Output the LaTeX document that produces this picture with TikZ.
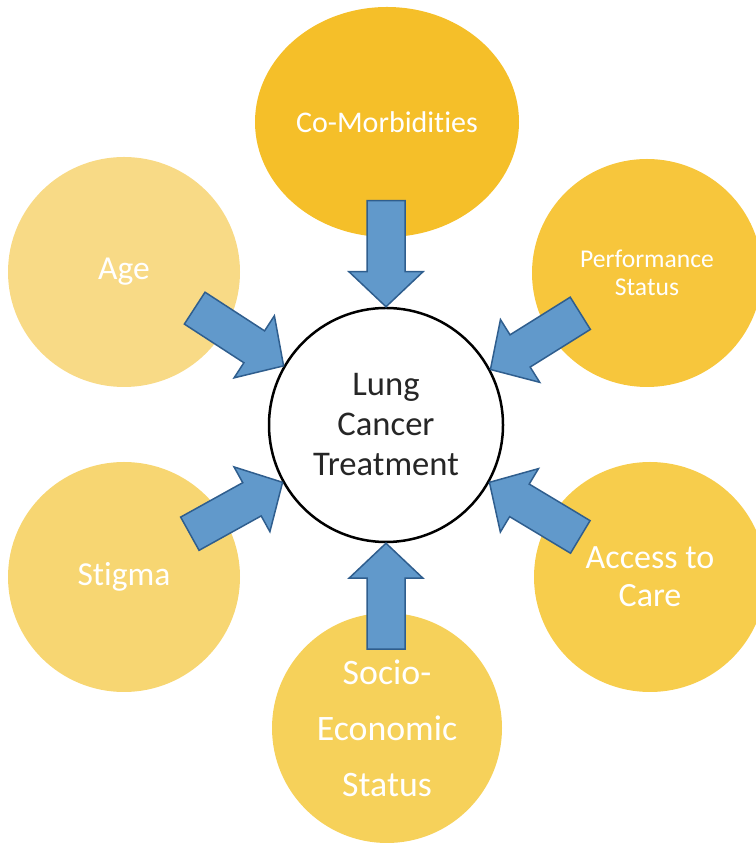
\documentclass[tikz,border=0pt]{standalone}
\usepackage{fontspec}
\setmainfont{Carlito}[Ligatures=NoCommon]
\usetikzlibrary{shapes.geometric}

\definecolor{goldA}{HTML}{F5BF29}
\definecolor{goldB}{HTML}{F7C63C}
\definecolor{goldC}{HTML}{F8DA86}
\definecolor{goldD}{HTML}{F7D672}
\definecolor{goldE}{HTML}{F7CD4C}
\definecolor{goldF}{HTML}{F6D15A}
\definecolor{arrowfill}{HTML}{6199CB}
\definecolor{arrowline}{HTML}{2F5E8E}

\tikzset{
  factor/.style={ellipse,inner sep=0pt,align=center,text=white},
  blockarrow/.style={fill=arrowfill,draw=arrowline,line width=1.5pt,line join=miter}
}

\begin{document}
\begin{tikzpicture}[x=1pt,y=1pt]
\useasboundingbox (0,0) rectangle (755,843);

% outer factors
\node[factor,fill=goldA,minimum width=264,minimum height=230,font=\fontsize{30}{36}\selectfont]
  (comorb) at (387,721) {Co-Morbidities};
\node[factor,fill=goldC,minimum width=232,minimum height=230,font=\fontsize{33.5}{40}\selectfont]
  (age) at (124,571) {Age};
\node[factor,fill=goldB,minimum width=230,minimum height=228,font=\fontsize{25.6}{28}\selectfont]
  (perf) at (647,570) {Performance\\Status};
\node[factor,fill=goldD,minimum width=232,minimum height=230,font=\fontsize{33.5}{40}\selectfont]
  (stigma) at (124,266) {Stigma};
\node[factor,fill=goldE,minimum width=232,minimum height=230,font=\fontsize{34}{38}\selectfont]
  (access) at (650,266) {Access to\\Care};
\node[factor,fill=goldF,minimum width=230,minimum height=230,font=\fontsize{35.8}{56}\selectfont]
  (socio) at (387,115) {Socio-\\Economic\\Status};

% centre
\node[circle,draw=black,line width=2.5pt,fill=white,minimum size=234,inner sep=0pt,
  align=center,text=black!85,font=\fontsize{34.6}{40}\selectfont]
  (lct) at (386,418) {Lung\\Cancer\\Treatment};

% block arrows, tip on the circle, rotated outwards
\foreach \tip/\rot in {90/90,28/32,150/147,209/209,331/329,270/270}{
  \begin{scope}[shift={(lct.\tip)},rotate=\rot]
  \draw[blockarrow] (0,0) -- (35,37) -- (35,19) -- (106,19) -- (106,-19)
    -- (35,-19) -- (35,-37) -- cycle;
  \end{scope}
}

\end{tikzpicture}
\end{document}
